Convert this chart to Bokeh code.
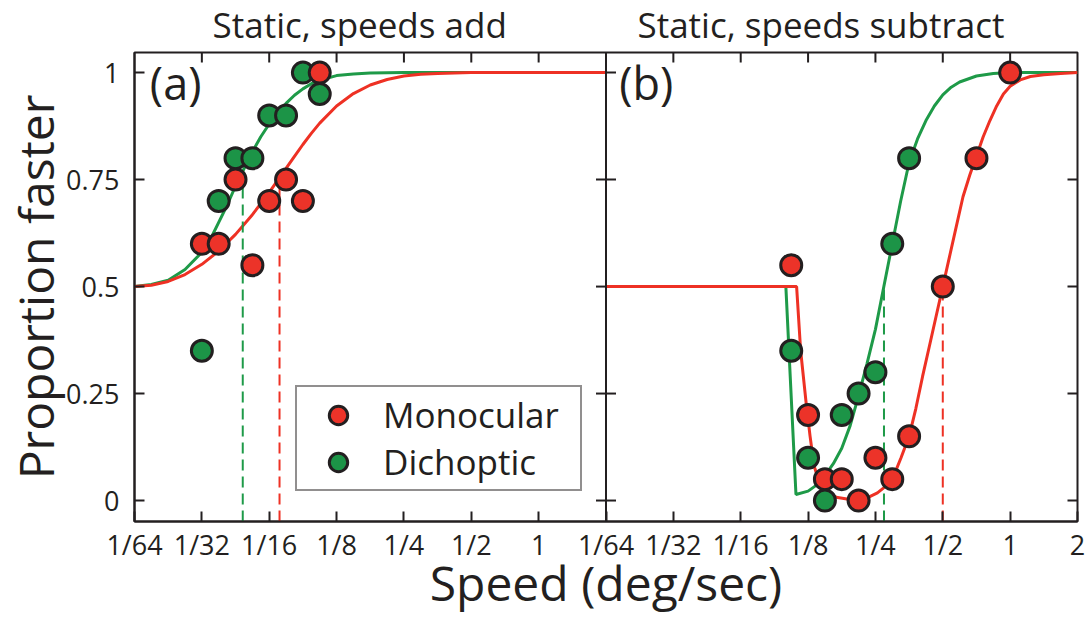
import math
from bokeh.plotting import figure
from bokeh.models import (FixedTicker, Range1d, LogScale, Legend, LegendItem, Label,
                          Span)
from bokeh.layouts import column
from bokeh.embed import file_html
from bokeh.resources import INLINE
from bokeh.core.properties import value

# ---------------- data ----------------
x_ticks = [0.015625, 0.03125, 0.0625, 0.125, 0.25, 0.5, 1.0, 2.0]
x_tick_labels = ["1/64", "1/32", "1/16", "1/8", "1/4", "1/2", "1", "2"]
y_ticks = [0.0, 0.25, 0.5, 0.75, 1.0]
y_tick_labels = ["0", "0.25", "0.5", "0.75", "1"]
titles = ["Static, speeds add", "Static, speeds subtract"]
x_title = "Speed (deg/sec)"
y_title = "Proportion faster"

# (a) Static, speeds add
speeds_a = [0.03125, 0.03716, 0.04419, 0.05256, 0.0625, 0.07433, 0.08839, 0.10511]
mono_a = [0.60, 0.60, 0.75, 0.55, 0.70, 0.75, 0.70, 1.00]
dich_a = [0.35, 0.70, 0.80, 0.80, 0.90, 0.90, 1.00, 0.95]

fit_a_dich_x = [0.015625, 0.018581, 0.022097, 0.026278, 0.03125, 0.034078, 0.037163,
                0.040526, 0.044194, 0.048194, 0.052556, 0.057313, 0.0625, 0.068157,
                0.074325, 0.081052, 0.088388, 0.096388, 0.105112, 0.125, 0.148651,
                0.176777, 0.25, 0.5, 1.0, 2.0]
fit_a_dich_y = [0.50, 0.505, 0.515, 0.54, 0.58, 0.61, 0.65, 0.69, 0.735, 0.775, 0.815,
                0.85, 0.88, 0.905, 0.928, 0.947, 0.962, 0.974, 0.982, 0.993, 0.997,
                0.999, 1.0, 1.0, 1.0, 1.0]

fit_a_mono_x = [0.015625, 0.018581, 0.022097, 0.026278, 0.03125, 0.037163, 0.044194,
                0.052556, 0.0625, 0.068157, 0.074325, 0.081052, 0.088388, 0.096388,
                0.105112, 0.125, 0.148651, 0.176777, 0.210224, 0.25, 0.297302,
                0.353553, 0.5, 1.0, 2.0]
fit_a_mono_y = [0.50, 0.503, 0.512, 0.528, 0.552, 0.583, 0.622, 0.668, 0.72, 0.748,
                0.776, 0.804, 0.832, 0.858, 0.882, 0.922, 0.951, 0.971, 0.984, 0.992,
                0.996, 0.998, 1.0, 1.0, 1.0]

thr_a_x = [0.0476, 0.0695]          # dichoptic, monocular
thr_a_level = [0.75, 0.75]

# (b) Static, speeds subtract
speeds_b_mono = [0.10511, 0.125, 0.14865, 0.17678, 0.21022, 0.25, 0.29730, 0.35355,
                 0.5, 0.70711, 1.0]
mono_b = [0.55, 0.20, 0.05, 0.05, 0.00, 0.10, 0.05, 0.15, 0.50, 0.80, 1.00]
speeds_b_dich = [0.10511, 0.125, 0.14865, 0.17678, 0.21022, 0.25, 0.29730, 0.35355]
dich_b = [0.35, 0.10, 0.00, 0.20, 0.25, 0.30, 0.60, 0.80]

fit_b_dich_x = [0.015625, 0.09946, 0.11035, 0.125, 0.136313, 0.148651, 0.162105,
                0.176777, 0.192776, 0.210224, 0.229251, 0.25, 0.272627, 0.297302,
                0.324210, 0.353553, 0.385553, 0.420448, 0.458502, 0.5, 0.545254,
                0.594604, 0.707107, 0.840896, 1.0, 2.0]
fit_b_dich_y = [0.5, 0.5, 0.014, 0.022, 0.036, 0.058, 0.086, 0.122, 0.175, 0.245, 0.32,
                0.40, 0.50, 0.60, 0.70, 0.79, 0.845, 0.888, 0.922, 0.948, 0.966, 0.978,
                0.992, 0.998, 1.0, 1.0]

fit_b_mono_x = [0.015625, 0.1111, 0.11581, 0.12243, 0.12763, 0.13305, 0.14260, 0.15496,
                0.16958, 0.18946, 0.210224, 0.23326, 0.25525, 0.27739, 0.30148,
                0.32535, 0.353553, 0.37893, 0.40613, 0.43528, 0.46652, 0.5, 0.53589,
                0.57435, 0.61557, 0.65975, 0.70711, 0.75786, 0.81225, 0.87055,
                0.93303, 1.0, 1.10957, 1.23114, 1.41421, 1.68179, 2.0]
fit_b_mono_y = [0.5, 0.5, 0.35, 0.23, 0.15, 0.08, 0.033, 0.015, 0.007, 0.003, 0.002,
                0.008, 0.018, 0.033, 0.057, 0.10, 0.15, 0.215, 0.29, 0.36, 0.43, 0.50,
                0.57, 0.64, 0.71, 0.76, 0.805, 0.85, 0.888, 0.922, 0.95, 0.968, 0.983,
                0.991, 0.995, 0.998, 1.0]

thr_b_x = [0.273, 0.5]              # dichoptic, monocular
thr_b_level = [0.5, 0.5]

# title centres (speed units of each panel)
title_x = [0.1586, 0.1427]

# ---------------- styling ----------------
FONT = "Open Sans"
INK = "#231F20"
RED = "#EC3329"
GREEN = "#1C9447"
RED_LINE = "#EE3124"
GREEN_LINE = "#1E9A48"
Y_LO, Y_HI = -0.049, 1.047
W = 1086

# Two side-by-side panels share one canvas: panel (a) uses the default log range,
# panel (b) its own log range "b"; both span the same seven octaves.
span_b = x_ticks[-1] / x_ticks[0]                     # 128: width of one panel
x_range_a = Range1d(x_ticks[0], x_ticks[-1] * span_b)
x_range_b = Range1d(x_ticks[0] / span_b, x_ticks[-1])

p = figure(width=W, height=569, x_axis_type="log", x_range=x_range_a,
           y_range=Range1d(Y_LO, Y_HI), output_backend="svg", toolbar_location=None,
           min_border_left=134, min_border_right=9, min_border_top=2,
           min_border_bottom=98)
p.extra_x_ranges = {"b": x_range_b}
p.extra_x_scales = {"b": LogScale()}
p.grid.visible = False
p.outline_line_color = INK
p.outline_line_width = 2
p.background_fill_color = "white"
p.border_fill_color = "white"

# bottom axis: panel (a) ticks, the shared border, and panel (b) ticks
b_ticks_on_a = [t * span_b for t in x_ticks[1:]]
bottom_ticks = x_ticks + b_ticks_on_a
bottom_labels = x_tick_labels[:-1] + [x_tick_labels[0]] + x_tick_labels[1:]

xa = p.xaxis[0]
xa.ticker = FixedTicker(ticks=bottom_ticks)
xa.major_label_overrides = {t: l for t, l in zip(bottom_ticks, bottom_labels)}
ya = p.yaxis[0]
ya.ticker = FixedTicker(ticks=y_ticks)
ya.major_label_overrides = {t: l for t, l in zip(y_ticks, y_tick_labels)}
for ax in (xa, ya):
    ax.axis_line_width = 2
    ax.axis_line_color = INK
    ax.major_tick_line_width = 2
    ax.major_tick_line_color = INK
    ax.major_tick_in = 10
    ax.major_tick_out = 0
    ax.minor_tick_line_color = None
    ax.major_label_text_font = FONT
    ax.major_label_text_font_size = "27px"
    ax.major_label_text_color = INK
    ax.axis_label_text_font = FONT
    ax.axis_label_text_font_size = "48px"
    ax.axis_label_text_font_style = "normal"
    ax.axis_label_text_color = INK
xa.major_label_standoff = 4
xa.axis_label = x_title
xa.axis_label_standoff = -16
ya.major_label_standoff = 15
ya.axis_label = y_title
ya.axis_label_standoff = -5

# inward ticks on the top edge, right edge and the shared border
top_ticks = x_ticks[1:-1] + b_ticks_on_a[:-1]
p.scatter(top_ticks, [Y_HI] * len(top_ticks), marker="dash", angle=math.pi / 2,
          size=20, line_color=INK, line_width=2)
p.scatter([x_range_a.end] * len(y_ticks), y_ticks, marker="dash", size=20,
          line_color=INK, line_width=2)
p.add_layout(Span(location=x_ticks[-1], dimension="height", line_color=INK,
                  line_width=2))
p.scatter([x_ticks[-1]] * len(y_ticks), y_ticks, marker="dash", size=20,
          line_color=INK, line_width=2)

# ---------------- panel (a) ----------------
p.line(fit_a_dich_x, fit_a_dich_y, line_color=GREEN_LINE, line_width=3)
p.line(fit_a_mono_x, fit_a_mono_y, line_color=RED_LINE, line_width=3)
p.segment(x0=thr_a_x, y0=[Y_LO, Y_LO], x1=thr_a_x, y1=thr_a_level,
          line_color=[GREEN_LINE, RED_LINE], line_width=2, line_dash="11 6")
g_a = p.scatter(speeds_a, dich_a, size=21, fill_color=GREEN, line_color=INK,
                line_width=3)
r_a = p.scatter(speeds_a, mono_a, size=21, fill_color=RED, line_color=INK,
                line_width=3)

# ---------------- panel (b) ----------------
p.line(fit_b_dich_x, fit_b_dich_y, line_color=GREEN_LINE, line_width=3,
       x_range_name="b")
p.line(fit_b_mono_x, fit_b_mono_y, line_color=RED_LINE, line_width=3,
       x_range_name="b")
p.segment(x0=thr_b_x, y0=[Y_LO, Y_LO], x1=thr_b_x, y1=thr_b_level,
          line_color=[GREEN_LINE, RED_LINE], line_width=2, line_dash="11 6",
          x_range_name="b")
p.scatter(speeds_b_mono, mono_b, size=21, fill_color=RED, line_color=INK,
          line_width=3, x_range_name="b")
p.scatter(speeds_b_dich, dich_b, size=21, fill_color=GREEN, line_color=INK,
          line_width=3, x_range_name="b")

p.add_layout(Label(x=0.0183, y=0.977, text="(a)", text_font=FONT,
                   text_font_size="45px", text_color=INK, text_baseline="middle"))
p.add_layout(Label(x=0.0179, y=0.977, text="(b)", text_font=FONT,
                   text_font_size="45px", text_color=INK, text_baseline="middle",
                   x_range_name="b"))

legend = Legend(items=[LegendItem(label="Monocular", renderers=[r_a]),
                       LegendItem(label="Dichoptic", renderers=[g_a])],
                location=(161, 30), orientation="vertical",
                border_line_color=INK, border_line_width=2,
                background_fill_color="white", background_fill_alpha=1.0,
                padding=4, spacing=0, margin=0,
                glyph_width=74, glyph_height=46, label_standoff=8, label_width=193,
                label_text_font=FONT, label_text_font_size="35px",
                label_text_color=INK, label_text_baseline="middle")
p.add_layout(legend)

# ---------------- panel titles (strip above, same x scales) ----------------
top = figure(width=W, height=50, x_axis_type="log", x_range=x_range_a,
             y_range=Range1d(0, 50), output_backend="svg", toolbar_location=None,
             min_border_left=134, min_border_right=9, min_border_top=0,
             min_border_bottom=0, x_axis_location=None, y_axis_location=None)
top.extra_x_ranges = {"b": x_range_b}
top.extra_x_scales = {"b": LogScale()}
top.grid.visible = False
top.outline_line_color = None
top.background_fill_color = "white"
top.border_fill_color = "white"
top.text(x=[title_x[0]], y=[25.6], text=[titles[0]], text_font=value(FONT),
         text_font_size="35px", text_color=INK, text_align="center",
         text_baseline="middle")
top.text(x=[title_x[1]], y=[25.6], text=[titles[1]], text_font=value(FONT),
         text_font_size="35px", text_color=INK, text_align="center",
         text_baseline="middle", x_range_name="b")

layout = column(top, p)
open("out.html", "w").write(file_html(layout, INLINE))
